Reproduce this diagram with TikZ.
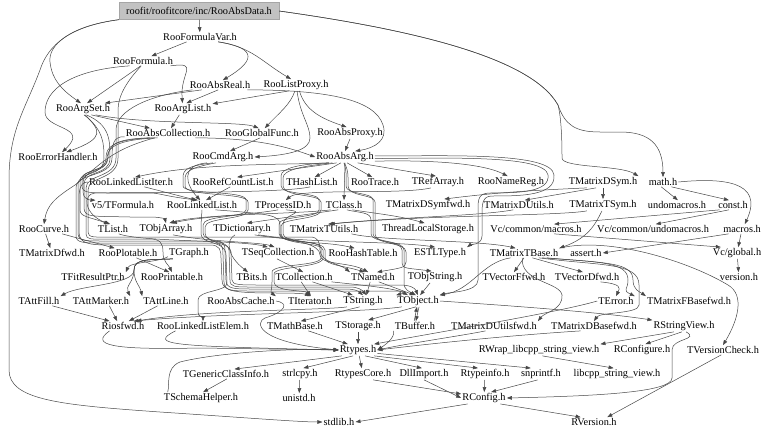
\documentclass[tikz,border=0pt]{standalone}
\usepackage{fontspec}
\setmainfont{Liberation Serif}
\usetikzlibrary{arrows.meta}
\begin{document}
\begin{tikzpicture}[x=1pt,y=-1pt,
  nd/.style={inner sep=1pt, font=\fontsize{10.3}{12}\selectfont},
  rootbox/.style={nd, fill=black!24, draw=black!35, minimum width=160pt, minimum height=17pt},
  ed/.style={draw=black!72, line width=0.5pt, -{Triangle[length=5pt,width=3.6pt]}}]
\fill[white] (0,0) rectangle (768,436);
\useasboundingbox (0,0) rectangle (768,436);
% ---------------- nodes ----------------
\node[rootbox] (data) at (199,11) {roofit/roofitcore/inc/RooAbsData.h};
\node[nd] (fvar) at (200,37) {RooFormulaVar.h};
\node[nd] (formula) at (143,61) {RooFormula.h};
\node[nd] (absreal) at (220,85) {RooAbsReal.h};
\node[nd] (listproxy) at (296,85) {RooListProxy.h};
\node[nd] (argset) at (83,109) {RooArgSet.h};
\node[nd] (arglist) at (183,109) {RooArgList.h};
\node[nd] (abscoll) at (168,133) {RooAbsCollection.h};
\node[nd] (globalfunc) at (262,133) {RooGlobalFunc.h};
\node[nd] (absproxy) at (350,133) {RooAbsProxy.h};
\node[nd] (errh) at (58,157) {RooErrorHandler.h};
\node[nd] (cmdarg) at (223,157) {RooCmdArg.h};
\node[nd] (absarg) at (345,157) {RooAbsArg.h};
\node[nd] (llistiter) at (131,182) {RooLinkedListIter.h};
\node[nd] (refcount) at (233,182) {RooRefCountList.h};
\node[nd] (hashlist) at (312,182) {THashList.h};
\node[nd] (trace) at (375,182) {RooTrace.h};
\node[nd] (refarray) at (438,182) {TRefArray.h};
\node[nd] (namereg) at (511,182) {RooNameReg.h};
\node[nd] (mdsym) at (603,182) {TMatrixDSym.h};
\node[nd] (math) at (663,182) {math.h};
\node[nd] (tformula) at (123,205) {v5/TFormula.h};
\node[nd] (llist) at (202,205) {RooLinkedList.h};
\node[nd] (processid) at (283,205) {TProcessID.h};
\node[nd] (tclass) at (344,205) {TClass.h};
\node[nd] (mdsymfwd) at (428,205) {TMatrixDSymfwd.h};
\node[nd] (mdutils) at (519,205) {TMatrixDUtils.h};
\node[nd] (mtsym) at (603,205) {TMatrixTSym.h};
\node[nd] (undomacros) at (677,205) {undomacros.h};
\node[nd] (const) at (733,205) {const.h};
\node[nd] (curve) at (44,229) {RooCurve.h};
\node[nd] (tlist) at (113,229) {TList.h};
\node[nd] (objarray) at (166,229) {TObjArray.h};
\node[nd] (dict) at (242,229) {TDictionary.h};
\node[nd] (mtutils) at (324,229) {TMatrixTUtils.h};
\node[nd] (tls) at (428,229) {ThreadLocalStorage.h};
\node[nd] (vcmacros) at (536,229) {Vc/common/macros.h};
\node[nd] (vcundo) at (653,229) {Vc/common/undomacros.h};
\node[nd] (macros) at (742,229) {macros.h};
\node[nd] (mdfwd) at (52,253) {TMatrixDfwd.h};
\node[nd] (plotable) at (128,253) {RooPlotable.h};
\node[nd] (graph) at (189,253) {TGraph.h};
\node[nd] (seqcoll) at (278,253) {TSeqCollection.h};
\node[nd] (hashtable) at (363,253) {RooHashTable.h};
\node[nd] (estl) at (440,253) {ESTLType.h};
\node[nd] (mtbase) at (524,253) {TMatrixTBase.h};
\node[nd] (assert) at (586,253) {assert.h};
\node[nd] (vcglobal) at (737,253) {Vc/global.h};
\node[nd] (fitres) at (93,277) {TFitResultPtr.h};
\node[nd] (printable) at (172,277) {RooPrintable.h};
\node[nd] (bits) at (252,277) {TBits.h};
\node[nd] (collection) at (304,277) {TCollection.h};
\node[nd] (tnamed) at (373,277) {TNamed.h};
\node[nd] (objstring) at (435,277) {TObjString.h};
\node[nd] (vffwd) at (514,277) {TVectorFfwd.h};
\node[nd] (vdfwd) at (587,277) {TVectorDfwd.h};
\node[nd] (version) at (739,277) {version.h};
\node[nd] (attfill) at (39,301) {TAttFill.h};
\node[nd] (attmarker) at (101,301) {TAttMarker.h};
\node[nd] (attline) at (166,301) {TAttLine.h};
\node[nd] (abscache) at (241,301) {RooAbsCache.h};
\node[nd] (iterator) at (310,301) {TIterator.h};
\node[nd] (tstring) at (363,301) {TString.h};
\node[nd] (tobject) at (418,301) {TObject.h};
\node[nd] (terror) at (616,301) {TError.h};
\node[nd] (mfbasefwd) at (689,301) {TMatrixFBasefwd.h};
\node[nd] (riosfwd) at (123,326) {Riosfwd.h};
\node[nd] (llelem) at (203,326) {RooLinkedListElem.h};
\node[nd] (mathbase) at (295,326) {TMathBase.h};
\node[nd] (storage) at (358,326) {TStorage.h};
\node[nd] (buffer) at (415,326) {TBuffer.h};
\node[nd] (mdutilsfwd) at (494,326) {TMatrixDUtilsfwd.h};
\node[nd] (mdbasefwd) at (594,326) {TMatrixDBasefwd.h};
\node[nd] (stringview) at (684,326) {RStringView.h};
\node[nd] (rtypes) at (358,350) {Rtypes.h};
\node[nd] (rwrap) at (539,350) {RWrap\_libcpp\_string\_view.h};
\node[nd] (rconfigure) at (642,350) {RConfigure.h};
\node[nd] (versioncheck) at (723,350) {TVersionCheck.h};
\node[nd] (genclass) at (226,374) {TGenericClassInfo.h};
\node[nd] (strlcpy) at (300,374) {strlcpy.h};
\node[nd] (rtypescore) at (363,374) {RtypesCore.h};
\node[nd] (dllimport) at (424,374) {DllImport.h};
\node[nd] (rtypeinfo) at (485,374) {Rtypeinfo.h};
\node[nd] (snprintf) at (541,374) {snprintf.h};
\node[nd] (libcpp) at (617,374) {libcpp\_string\_view.h};
\node[nd] (schema) at (201,398) {TSchemaHelper.h};
\node[nd] (unistd) at (299,398) {unistd.h};
\node[nd] (rconfig) at (484,398) {RConfig.h};
\node[nd] (stdlib) at (339,422) {stdlib.h};
\node[nd] (rversion) at (594,422) {RVersion.h};
% ---------------- top edges ----------------
\draw[ed] (data) -- (fvar);
\draw[ed] (data.south west) .. controls (70,26) and (48,45) .. (50,62) .. controls (52,80) and (62,90) .. (argset.110);
\draw[ed] (data.south west) .. controls (70,26) and (48,45) .. (40,70) .. controls (25,110) and (9,130) .. (9,180) -- (9,370) .. controls (9,400) and (60,405) .. (160,412) .. controls (250,418) and (300,422) .. (stdlib.west);
\draw[ed] (data.east) .. controls (400,28) and (530,55) .. (558,105) .. controls (565,125) and (575,132) .. (600,132) -- (620,132) .. controls (650,132) and (663,145) .. (math.north);
\draw[ed] (data.east) .. controls (400,28) and (530,55) .. (558,105) .. controls (562,120) and (562,150) .. (562,158) .. controls (562,168) and (620,165) .. (mdsym.north east);
\draw[ed] (fvar.200) -- (formula.30);
\draw[ed] (fvar.-15) .. controls (252,47) and (260,58) .. (absreal.60);
\draw[ed] (fvar.-15) .. controls (252,47) and (262,62) .. (listproxy.130);
\draw[ed] (formula.245) -- (argset.55);
\draw[ed] (formula.-10) .. controls (200,62) and (180,72) .. (arglist.95);
\draw[ed] (formula.200) .. controls (70,70) and (45,90) .. (45,112) .. controls (45,130) and (90,126) .. (errh.50);
\draw[ed] (absreal.195) -- (argset.15);
\draw[ed] (absreal.250) -- (arglist.60);
\draw[ed] (listproxy.220) -- (arglist.10);
\draw[ed] (listproxy.-60) .. controls (305,110) and (320,118) .. (absproxy.120);
\draw[ed] (listproxy.-100) .. controls (290,105) and (280,112) .. (globalfunc.60);
\draw[ed] (listproxy.-80) .. controls (300,115) and (310,125) .. (310,138) .. controls (310,150) and (290,155) .. (cmdarg.east);
\draw[ed] (absreal.-10) .. controls (330,90) and (375,100) .. (383,125) .. controls (388,140) and (375,148) .. (absarg.30);
\draw[ed] (argset.-25) .. controls (150,125) and (240,121) .. (globalfunc.125);
\draw[ed] (argset.-35) -- (abscoll.165);
\draw[ed] (argset.-70) .. controls (100,130) and (106,138) .. (errh.30);
\draw[ed] (arglist) -- (abscoll);
\draw[ed] (globalfunc.250) -- (cmdarg.40);
\draw[ed] (absproxy.south) -- (absarg.north);
\draw[ed] (abscoll.-10) .. controls (260,138) and (290,148) .. (absarg.west);
\draw[ed] (abscoll.200) .. controls (110,150) and (100,165) .. (75,185) .. controls (55,198) and (47,205) .. (curve.north);
% ---------------- absarg fan ----------------
\draw[ed] (absarg.200) .. controls (280,165) and (200,163) .. (llistiter.50);
\draw[ed] (absarg.215) -- (refcount.50);
\draw[ed] (absarg.235) -- (hashlist.60);
\draw[ed] (absarg.-70) -- (trace.120);
\draw[ed] (absarg.-25) -- (refarray.110);
\draw[ed] (absarg.-8) .. controls (420,160) and (480,162) .. (namereg.120);
\draw[ed] (absarg.south) -- (tclass.north);
\draw[ed] (cmdarg.200) .. controls (180,165) and (186,185) .. (llist.110);
\draw[ed] (llistiter.-20) -- (llist.140);
\draw[ed] (refcount.240) -- (llist.50);
\draw[ed] (refarray.220) .. controls (400,195) and (300,188) .. (processid.60);
\draw[ed] (absarg.-3) .. controls (450,158) and (545,155) .. (548,175) .. controls (550,192) and (520,193) .. (490,193) .. controls (478,193) and (478,200) .. (478,210) -- (478,280) .. controls (478,292) and (450,292) .. (tobject.north east);
\draw[ed] (absarg.2) .. controls (450,156) and (552,152) .. (554,175) .. controls (556,196) and (520,196) .. (492,196) .. controls (482,196) and (482,205) .. (482,215) -- (482,236) .. controls (482,245) and (470,245) .. (estl.north east);
% ---------------- right upper ----------------
\draw[ed] (mdsym.200) .. controls (540,190) and (500,192) .. (mdsymfwd.20);
\draw[ed] (mdsym) -- (mtsym);
\draw[ed] (mdsym.220) -- (mdutils.40);
\draw[ed] (math.250) -- (undomacros.80);
\draw[ed] (math.-30) -- (const.130);
\draw[ed] (math.east) .. controls (720,178) and (765,180) .. (macros.60);
\draw[ed] (const.200) -- (vcmacros.15);
\draw[ed] (const.230) -- (vcundo.60);
\draw[ed] (macros) -- (vcglobal);
\draw[ed] (macros.200) -- (assert.east);
\draw[ed] (vcglobal) -- (version);
\draw[ed] (vcmacros.-15) -- (vcglobal.160);
\draw[ed] (mtsym.-100) .. controls (595,225) and (588,238) .. (mtbase.north east);
\draw[ed] (mtsym.200) .. controls (560,216) and (420,215) .. (mtutils.40);
\draw[ed] (mdutils.220) .. controls (480,216) and (400,217) .. (mtutils.50);
\draw[ed] (mtutils.-10) .. controls (380,241) and (480,240) .. (mtbase.150);
\draw[ed] (mtbase.south) -- (vffwd.north);
\draw[ed] (mtbase.-30) -- (vdfwd.130);
\draw[ed] (mtbase.-15) .. controls (600,262) and (628,262) .. (628,280) .. controls (628,290) and (622,290) .. (terror.north east);
\draw[ed] (mtbase.-12) .. controls (605,263) and (633,262) .. (633,280) .. controls (633,290) and (640,292) .. (mfbasefwd.north west);
\draw[ed] (mtbase.-18) .. controls (600,266) and (639,262) .. (639,285) -- (639,305) .. controls (639,314) and (600,312) .. (mdbasefwd.north);
\draw[ed] (mtbase.-110) .. controls (520,282) and (560,282) .. (562,295) .. controls (563,310) and (545,312) .. (mdutilsfwd.north east);
\draw[ed] (mtbase.200) .. controls (482,262) and (472,290) .. (tobject.north east);
\draw[ed] (mtbase.north east) .. controls (610,236) and (690,262) .. (728,285) .. controls (745,295) and (738,320) .. (versioncheck.north);
\draw[ed] (vdfwd.-20) .. controls (622,284) and (620,288) .. (terror.north);
% ---------------- lower right ----------------
\draw[ed] (mdbasefwd.200) .. controls (500,336) and (420,345) .. (rtypes.east);
\draw[ed] (mdutilsfwd.210) .. controls (460,336) and (410,343) .. (rtypes.east);
\draw[ed] (buffer.south west) .. controls (395,338) and (385,345) .. (rtypes.east);
\draw[ed] (terror.west) .. controls (560,312) and (450,330) .. (rtypes.20);
\draw[ed] (tobject.east) .. controls (500,305) and (600,312) .. (stringview.north west);
\draw[ed] (stringview.210) -- (rwrap.north east);
\draw[ed] (stringview.250) -- (rconfigure.60);
\draw[ed] (stringview.-70) .. controls (700,340) and (672,338) .. (672,350) -- (672,378) .. controls (672,392) and (600,396) .. (rconfig.east);
\draw[ed] (rwrap.-60) -- (libcpp.120);
\draw[ed] (versioncheck.250) -- (rversion.20);
\draw[ed] (rconfig.-20) -- (rversion.160);
\draw[ed] (rtypeinfo) -- (rconfig);
\draw[ed] (snprintf.240) -- (rconfig.40);
\draw[ed] (rtypescore.-30) -- (rconfig.170);
\draw[ed] (dllimport.south) -- (rconfig.west);
\draw[ed] (rconfig.200) -- (stdlib.east);
\draw[ed] (strlcpy) -- (unistd);
\draw[ed] (genclass.-80) -- (schema.70);
\draw[ed] (schema.170) .. controls (170,385) and (165,368) .. (180,362) .. controls (220,352) and (300,348) .. (rtypes.west);
\draw[ed] (rtypes.200) -- (genclass.30);
\draw[ed] (rtypes.230) -- (strlcpy.60);
\draw[ed] (rtypes) -- (rtypescore);
\draw[ed] (rtypes.-40) -- (dllimport.110);
\draw[ed] (rtypes.-20) -- (rtypeinfo.140);
\draw[ed] (rtypes.-10) -- (snprintf.150);
% ---------------- middle bottom ----------------
\draw[ed] (tstring.240) -- (mathbase.40);
\draw[ed] (tstring.200) .. controls (330,310) and (200,310) .. (riosfwd.20);
\draw[ed] (tobject.200) .. controls (360,313) and (220,313) .. (riosfwd.25);
\draw[ed] (tobject.250) -- (storage.30);
\draw[ed] (tobject.-80) -- (buffer.80);
\draw[ed] (buffer.100) -- (tobject.-100);
\draw[ed] (mathbase.-20) -- (rtypes.150);
\draw[ed] (storage) -- (rtypes);
\draw[ed] (riosfwd.200) .. controls (90,345) and (110,350) .. (200,348) -- (rtypes.west);
\draw[ed] (llelem.190) .. controls (148,345) and (170,346) .. (rtypes.west);
\draw[ed] (abscache.east) .. controls (290,303) and (285,312) .. (265,318) .. controls (255,322) and (255,342) .. (rtypes.west);
\draw[ed] (attfill.-20) -- (riosfwd.160);
\draw[ed] (attmarker.-30) -- (riosfwd.140);
\draw[ed] (attline.-150) -- (riosfwd.40);
\draw[ed] (graph.200) .. controls (150,260) and (134,258) .. (134,270) .. controls (134,285) and (80,285) .. (attfill.north east);
\draw[ed] (graph.200) .. controls (150,260) and (134,258) .. (134,270) .. controls (134,282) and (125,286) .. (attmarker.north east);
\draw[ed] (graph.200) .. controls (150,260) and (134,258) .. (134,270) .. controls (134,282) and (140,286) .. (attline.north west);
\draw[ed] (plotable.-30) -- (printable.120);
\draw[ed] (curve) -- (mdfwd);
\draw[ed] (curve.-15) -- (plotable.160);
\draw[ed] (tnamed.240) -- (tstring.60);
\draw[ed] (tnamed.-40) -- (tobject.120);
\draw[ed] (objstring.230) -- (tobject.70);
\draw[ed] (collection.-30) -- (tstring.150);
\draw[ed] (collection.240) -- (iterator.80);
\draw[ed] (collection.-10) .. controls (360,285) and (395,288) .. (tobject.150);
\draw[ed] (seqcoll.-100) -- (collection.100);
\draw[ed] (dict.-20) .. controls (300,240) and (320,245) .. (320,255) .. controls (320,265) and (350,262) .. (tnamed.135);
\draw[ed] (dict.220) .. controls (226,240) and (226,255) .. (bits.130);
\draw[ed] (dict.-25) .. controls (300,243) and (395,241) .. (estl.130);
\draw[ed] (tclass.220) -- (dict.50);
\draw[ed] (tclass.200) .. controls (300,214) and (200,214) .. (objarray.60);
\draw[ed] (tclass.-30) .. controls (380,214) and (400,216) .. (tls.120);
\draw[ed] (processid.225) .. controls (250,215) and (205,216) .. (objarray.45);
\draw[ed] (hashlist.250) .. controls (280,194) and (120,192) .. (95,193) .. controls (82,194) and (84,215) .. (tlist.120);
\draw[ed] (tlist.-40) .. controls (140,242) and (240,240) .. (seqcoll.150);
\draw[ed] (objarray.-40) .. controls (210,242) and (260,242) .. (seqcoll.120);
\draw[ed] (llist.-20) .. controls (270,214) and (280,215) .. (280,225) -- (280,234) .. controls (280,245) and (320,240) .. (hashtable.150);
\draw[ed] (llist.south) .. controls (202,218) and (201,218) .. (201,225) -- (201,234) .. controls (201,245) and (226,240) .. (226,255) -- (227,283) .. controls (227,292) and (198,290) .. (198,300) -- (198,312) .. controls (198,318) and (203,316) .. (llelem.north);
\draw[ed] (graph.190) .. controls (160,262) and (130,262) .. (fitres.north east);
% ---------------- left trunk ----------------
\draw[ed] (abscoll.200) .. controls (115,138) and (108,145) .. (108,158) .. controls (108,172) and (82,168) .. (82,180) -- (82,186) .. controls (82,193) and (90,193) .. (110,193) -- (150,193) .. controls (160,193) and (163,196) .. (llist.130);
\draw[ed] (abscoll.195) .. controls (112,140) and (106,147) .. (106,158) .. controls (106,174) and (80,168) .. (80,182) -- (80,210) .. controls (80,217) and (90,217) .. (tlist.130);
\draw[ed] (argset.-60) .. controls (110,125) and (110,140) .. (110,158) .. controls (110,176) and (84,170) .. (84,184) -- (84,208) .. controls (84,218) and (95,216) .. (130,217) -- (150,217) .. controls (160,217) and (165,219) .. (objarray.north);
\draw[ed] (argset.-80) .. controls (104,130) and (104,145) .. (104,158) .. controls (104,178) and (78,170) .. (78,185) -- (78,233) .. controls (78,241) and (85,241) .. (100,241) -- (215,241) .. controls (224,241) and (225,244) .. (225,252) -- (226,280) .. controls (226,289) and (235,289) .. (250,289) -- (345,289) .. controls (355,289) and (358,291) .. (tstring.north);
\draw[ed] (abscoll.185) .. controls (113,136) and (112,145) .. (112,158) .. controls (112,178) and (76,172) .. (76,188) -- (76,236) .. controls (76,243) and (85,243) .. (100,243) -- (213,243) .. controls (222,243) and (223,246) .. (223,255) -- (224,282) .. controls (224,291) and (233,291) .. (250,291) -- (395,291) .. controls (405,291) and (408,292) .. (tobject.north west);
\draw[ed] (absreal.190) .. controls (150,95) and (116,110) .. (116,130) -- (116,158) .. controls (116,178) and (86,174) .. (86,188) -- (86,234) .. controls (86,240) and (92,239) .. (105,239) -- (150,239) .. controls (160,239) and (163,243) .. (163,252) .. controls (163,262) and (168,264) .. (printable.north);
\draw[ed] (formula.-110) .. controls (128,80) and (118,95) .. (118,110) -- (118,158) .. controls (118,180) and (88,176) .. (88,190) -- (88,232) .. controls (88,238) and (95,237) .. (110,237) -- (310,237) .. controls (318,237) and (320,242) .. (320,250) .. controls (320,262) and (340,264) .. (tnamed.north west);
\draw[ed] (llistiter.west) .. controls (80,182) and (79,190) .. (79,200) -- (79,232) .. controls (79,244) and (90,245) .. (110,245) -- (210,245) .. controls (220,245) and (221,250) .. (221,258) -- (222,280) .. controls (222,292) and (235,293) .. (280,293) .. controls (300,293) and (305,294) .. (iterator.north);
\draw[ed] (abscoll.205) .. controls (110,140) and (107,150) .. (107,160) .. controls (107,172) and (83,170) .. (83,182) -- (83,192) .. controls (83,198) and (88,200) .. (tformula.170);
% ---------------- T2 / T3 / T5 trunks ----------------
\draw[ed] (cmdarg.210) .. controls (186,166) and (183,170) .. (183,178) -- (183,186) .. controls (183,195) and (246,190) .. (246,200) -- (246,210) .. controls (246,218) and (203,215) .. (203,225) -- (203,233) .. controls (203,242) and (229,240) .. (229,250) -- (230,280) .. controls (230,287) and (235,287) .. (250,287) -- (350,287) .. controls (358,287) and (362,290) .. (tstring.60);
\draw[ed] (cmdarg.220) .. controls (188,168) and (185,172) .. (185,180) -- (185,186) .. controls (185,197) and (248,192) .. (248,202) -- (248,210) .. controls (248,220) and (205,217) .. (205,227) -- (205,233) .. controls (205,244) and (231,242) .. (231,252) -- (232,280) .. controls (232,285) and (240,285) .. (260,285) -- (400,285) .. controls (410,285) and (415,288) .. (tobject.north);
\draw[ed] (absarg.200) .. controls (300,164) and (281,168) .. (281,176) -- (281,186) .. controls (281,195) and (319,192) .. (319,200) -- (319,210) .. controls (319,218) and (279,216) .. (279,224) -- (279,234) .. controls (279,243) and (321,240) .. (321,248) -- (321,258) .. controls (321,266) and (272,264) .. (272,272) -- (272,282) .. controls (272,290) and (270,292) .. (abscache.north east);
\draw[ed] (absarg.205) .. controls (302,166) and (283,170) .. (283,178) -- (283,186) .. controls (283,197) and (321,194) .. (321,202) -- (321,210) .. controls (321,220) and (281,218) .. (281,226) -- (281,234) .. controls (281,245) and (323,242) .. (323,250) -- (323,258) .. controls (323,268) and (274,266) .. (274,274) -- (274,282) .. controls (274,292) and (305,290) .. (iterator.north);
\draw[ed] (absarg.-100) .. controls (347,172) and (346,178) .. (346,186) .. controls (346,195) and (373,192) .. (373,200) -- (373,234) .. controls (373,243) and (404,240) .. (404,250) -- (404,283) .. controls (404,290) and (410,292) .. (tobject.110);
\draw[ed] (absarg.-95) .. controls (349,172) and (348,178) .. (348,186) .. controls (348,197) and (375,194) .. (375,202) -- (375,234) .. controls (375,245) and (406,242) .. (406,252) -- (406,262) .. controls (406,268) and (400,268) .. (tnamed.50);
\draw[ed] (tclass.-60) .. controls (360,213) and (371,212) .. (371,220) -- (371,234) .. controls (371,243) and (402,240) .. (402,250) -- (402,263) .. controls (402,269) and (408,268) .. (objstring.120);
\draw[ed] (processid.-60) .. controls (310,212) and (283,214) .. (283,224) -- (283,234) .. controls (283,243) and (325,240) .. (325,250) -- (325,258) .. controls (325,265) and (345,266) .. (tnamed.150);
\end{tikzpicture}
\end{document}
